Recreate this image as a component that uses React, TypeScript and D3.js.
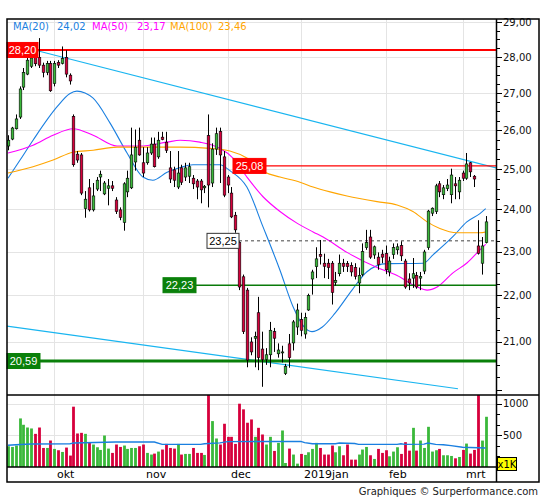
import React from 'react';
import * as d3 from 'd3';

// ---------- DATA ----------
const opens = [
  25.59, 25.77, 26.04, 26.35, 27.16, 27.52, 27.74, 28.04, 27.99, 27.77,
  27.57, 27.82, 27.26, 27.85, 27.82, 27.99, 27.49, 26.37, 25.38, 25.36,
  24.02, 24.53, 23.99, 24.50, 24.80, 24.38, 24.52, 24.58, 24.23, 23.99,
  23.69, 24.43, 24.53, 25.18, 25.74, 25.16, 25.16, 25.41, 25.64, 25.31,
  25.82, 25.69, 25.03, 24.98, 24.55, 25.03, 24.80, 24.82, 24.77, 24.70,
  24.70, 24.53, 25.86, 24.65, 25.51, 25.97, 25.31, 24.80, 24.40, 23.86,
  23.21, 22.42, 22.12, 20.99, 21.07, 21.62, 20.84, 20.62, 20.72, 21.21,
  20.74, 20.76, 20.33, 20.95, 20.97, 21.31, 21.47, 21.16, 21.68, 22.37,
  22.65, 22.93, 22.73, 22.73, 22.73, 22.29, 22.49, 22.73, 22.72, 22.68,
  22.63, 22.28, 22.47, 23.09, 23.34, 22.92, 22.87, 22.94, 22.95, 22.53,
  22.93, 23.04, 23.14, 22.78, 22.37, 22.39, 22.45, 22.39, 22.55, 23.09,
  23.91, 23.95, 24.63, 24.36, 24.51, 24.36, 24.63, 24.43, 24.90, 24.77,
  25.16, 24.82, 23.13, 22.73, 23.21,
];
const highs = [
  25.87, 26.09, 26.42, 27.18, 27.69, 28.09, 28.19, 28.19, 28.54, 27.84,
  27.89, 27.89, 27.89, 27.91, 28.30, 28.19, 27.54, 26.42, 25.46, 25.41,
  24.45, 24.75, 24.65, 24.80, 24.96, 24.70, 24.75, 24.70, 24.30, 24.05,
  24.67, 24.96, 26.07, 26.02, 26.07, 25.56, 25.56, 25.81, 25.81, 25.96,
  25.96, 25.96, 25.46, 25.06, 25.46, 25.11, 25.16, 25.16, 24.85, 24.75,
  24.75, 24.60, 26.42, 25.66, 26.07, 26.07, 25.46, 24.85, 24.55, 23.94,
  23.24, 22.47, 22.17, 21.09, 21.21, 21.97, 21.21, 20.86, 21.42, 21.29,
  20.96, 20.91, 20.53, 21.16, 21.46, 21.82, 21.62, 21.62, 22.04, 22.58,
  23.10, 23.27, 22.95, 22.83, 22.78, 22.53, 22.93, 22.83, 22.78, 22.75,
  22.73, 22.63, 23.19, 23.51, 23.51, 23.14, 22.98, 23.04, 23.14, 22.88,
  23.19, 23.19, 23.24, 22.83, 22.50, 22.85, 22.53, 22.53, 23.04, 23.99,
  24.05, 24.63, 24.70, 24.60, 24.75, 25.01, 24.80, 24.80, 24.96, 25.41,
  25.18, 24.85, 23.74, 23.34, 23.84,
];
const lows = [
  25.48, 25.74, 26.02, 26.30, 27.08, 27.49, 27.69, 27.74, 27.69, 27.43,
  27.49, 27.03, 27.18, 27.69, 27.79, 27.43, 27.23, 25.06, 25.16, 24.35,
  23.80, 23.95, 23.95, 24.45, 24.45, 24.35, 24.10, 24.45, 23.89, 23.74,
  23.49, 24.30, 24.50, 24.96, 25.34, 24.80, 25.11, 25.36, 25.04, 25.26,
  25.74, 25.41, 24.65, 24.55, 24.50, 24.60, 24.70, 24.65, 24.50, 24.25,
  24.15, 24.40, 24.05, 24.55, 25.36, 24.65, 24.30, 24.40, 23.79, 23.44,
  22.12, 21.16, 20.46, 20.71, 20.46, 20.40, 20.06, 20.51, 20.46, 20.78,
  20.66, 20.56, 20.30, 20.45, 20.81, 21.14, 21.11, 21.06, 21.66, 22.02,
  22.39, 22.70, 22.39, 22.37, 21.80, 22.22, 22.43, 22.53, 22.53, 22.43,
  22.36, 22.05, 22.43, 23.04, 22.83, 22.83, 22.58, 22.73, 22.48, 22.43,
  22.83, 22.93, 22.78, 22.15, 22.12, 22.17, 22.15, 22.12, 22.48, 23.04,
  23.84, 23.89, 24.30, 24.25, 24.45, 24.15, 24.25, 24.25, 24.70, 24.73,
  24.80, 24.55, 22.93, 22.47, 23.19,
];
const closes = [
  25.74, 26.06, 26.30, 27.11, 27.57, 27.91, 27.97, 27.81, 27.77, 27.57,
  27.82, 27.06, 27.82, 27.77, 27.96, 27.52, 27.33, 25.11, 25.23, 24.40,
  24.25, 23.99, 24.33, 24.72, 24.87, 24.65, 24.58, 24.52, 23.95, 23.81,
  24.63, 24.77, 25.36, 25.56, 25.36, 24.90, 25.41, 25.64, 25.06, 25.74,
  25.76, 25.48, 24.75, 24.72, 24.90, 24.67, 25.03, 25.06, 24.63, 24.55,
  24.48, 24.57, 24.60, 25.51, 25.91, 25.36, 24.35, 24.60, 23.82, 23.51,
  22.19, 21.21, 20.61, 20.78, 21.11, 20.66, 20.62, 20.72, 21.24, 21.07,
  20.82, 20.78, 20.48, 20.66, 21.42, 21.68, 21.24, 21.52, 22.00, 22.53,
  22.83, 22.89, 22.66, 22.63, 22.07, 22.34, 22.73, 22.66, 22.65, 22.53,
  22.43, 22.45, 23.00, 23.21, 22.87, 23.11, 22.70, 22.87, 22.58, 22.78,
  23.09, 23.11, 22.90, 22.19, 22.28, 22.49, 22.19, 22.43, 22.99, 23.96,
  24.03, 24.58, 24.43, 24.53, 24.60, 24.85, 24.58, 24.72, 24.77, 25.13,
  24.93, 24.75, 22.96, 23.13, 23.70,
];
// volumes in thousands
const volumes = [
  327, 316, 338, 765, 665, 622, 607, 522, 622, 300,
  300, 417, 285, 264, 237, 306, 180, 950, 528, 538,
  522, 380, 354, 311, 269, 496, 290, 222, 354, 316,
  338, 285, 300, 300, 327, 354, 222, 196, 211, 243,
  275, 364, 300, 290, 364, 196, 206, 206, 300, 222,
  222, 190, 1150, 723, 449, 354, 681, 475, 475, 364,
  997, 908, 697, 749, 475, 617, 512, 354, 475, 253,
  380, 575, 63, 290, 196, 53, 206, 190, 232, 285,
  380, 300, 196, 196, 338, 232, 327, 185, 354, 116,
  116, 196, 275, 316, 185, 127, 285, 222, 264, 169,
  243, 311, 206, 391, 258, 617, 258, 417, 300, 633,
  243, 264, 285, 185, 185, 174, 137, 158, 269, 369,
  211, 269, 1150, 416, 791,
];

const monthLabels = ['okt', 'nov', 'dec', '2019jan', 'feb', 'mrt'];
const monthStarts = [12, 35, 57, 76, 98, 118];

// moving averages: [candle index, value]
const ma20Pts = [
  [0, 24.77], [3, 25.21], [6.5, 25.74], [12.7, 26.62], [16, 26.98], [17.9, 27.05], [20, 27.0],
  [22.1, 26.86], [26.5, 26.19], [30.9, 25.41], [35, 24.8], [37.6, 24.72], [41.3, 24.92],
  [44.7, 25.04], [48, 25.11], [55, 25.11], [57.6, 24.96], [62, 24.55], [66.2, 23.58],
  [70.6, 22.57], [74, 21.75], [76.6, 21.34], [78.9, 21.21], [81.6, 21.31], [84.9, 21.61],
  [89.3, 22.12], [93.1, 22.53], [98.3, 22.72], [107.8, 22.73], [110.4, 22.93], [115.6, 23.36],
  [119.1, 23.7], [122.5, 23.9], [124, 24.02],
];
const ma50Pts = [
  [0, 25.41], [6.5, 25.61], [11.7, 25.87], [16.9, 26.04], [22.1, 25.87], [28.3, 25.59],
  [34.3, 25.59], [41.3, 25.69], [44.7, 25.74], [49.8, 25.69], [55, 25.53], [58.4, 25.28],
  [62, 24.8], [66.2, 24.31], [70.6, 23.95], [75, 23.67], [79.2, 23.46], [81.8, 23.34],
  [88, 22.98], [95.8, 22.63], [101, 22.45], [106.2, 22.19], [108.8, 22.12], [111.4, 22.19],
  [115.5, 22.51], [119.2, 22.74], [122.5, 23.04], [124, 23.17],
];
const ma100Pts = [
  [0, 24.9], [6.5, 25.06], [11.7, 25.23], [16.9, 25.43], [22.1, 25.48], [28.3, 25.56],
  [36.9, 25.56], [44.7, 25.56], [52.4, 25.53], [57.6, 25.46], [62, 25.28], [66.7, 24.92],
  [70.6, 24.8], [75.8, 24.67], [79.2, 24.55], [83.6, 24.43], [88, 24.33], [95.8, 24.19],
  [101, 24.11], [105.1, 23.95], [108.8, 23.7], [112.1, 23.54], [116.6, 23.44], [122.5, 23.44],
  [124, 23.46],
];
const volMaPts = [
  [0, 342], [2, 350], [6, 362], [16, 365], [17, 378], [28, 394], [38, 394], [40, 357],
  [50, 357], [51, 367], [55, 380], [57, 400], [76, 404], [77, 383], [79, 367], [85, 367],
  [86, 378], [90, 370], [91, 357], [101, 357], [102, 365], [103, 357], [108, 360], [109, 378],
  [111, 357], [113, 350], [115, 336], [118, 310], [124, 300],
];

const legendLabels = ['MA(20)', 'MA(50)', 'MA(100)'];
const legendValues = ['24,02', '23,17', '23,46'];

const levelValues = [28.2, 25.08, 23.25, 22.23, 20.59];
const trendUpper = [[-0.26, 28.4], [126.7, 25.03]];
const trendLower = [[-0.26, 21.33], [116.8, 20.02]];

const priceTicks = [21, 22, 23, 24, 25, 26, 27, 28, 29];
const volTicks = [500, 1000];

// ---------- STYLE / LAYOUT ----------
const FONT = '"DejaVu Sans", Verdana, sans-serif';
const L = 7, R = 496, T = 19, B = 395, VB = 467, FB = 482, FR = 539;
const GREEN = '#3ab83a';
const RED = '#d6003c';
const MA_COLORS = ['#1a7fe0', '#ff00ff', '#ffa500'];
const LEGEND_X = [[13, 57], [92, 137], [170, 218]];
const LEVEL_STYLE = [
  { color: '#ff0000', width: 2, dash: undefined, fill: '#ff0000', text: '#fff', border: '#ff0000', bx: 7, bw: 31 },
  { color: '#ff0000', width: 1.2, dash: undefined, fill: '#ff0000', text: '#fff', border: '#ff0000', bx: 233, bw: 33 },
  { color: '#444444', width: 1, dash: '3,3', fill: '#ffffff', text: '#000', border: '#333333', bx: 207, bw: 32 },
  { color: '#0a7a0a', width: 1.5, dash: undefined, fill: '#0a800a', text: '#fff', border: '#0a800a', bx: 163, bw: 33 },
  { color: '#0a800a', width: 3, dash: undefined, fill: '#0a800a', text: '#fff', border: '#0a800a', bx: 7, bw: 33 },
];

export default function App() {
  const x = d3.scaleLinear().domain([0, 124]).range([8, 485.7]);
  const y = d3.scaleLog().domain([21, 28]).range([341.5, 57]);
  const yv = d3.scaleLinear().domain([0, 1134]).range([VB, T + (B - T)]).clamp(true);
  yv.range([VB, B]);
  const fmt = (v: number) => d3.format('.2f')(v).replace('.', ',');
  const maLine = d3.line<number[]>().x(d => x(d[0])).y(d => y(d[1])).curve(d3.curveMonotoneX);
  const straight = d3.line<number[]>().x(d => x(d[0])).y(d => y(d[1]));
  const vLine = d3.line<number[]>().x(d => x(d[0])).y(d => yv(d[1]));
  const minorTicks = d3.range(80, 117).map(k => k / 4).filter(p => y(p) >= T && y(p) <= B);
  const volMinor = d3.range(1, 7).map(k => (1000 / 6) * k);
  const idx = d3.range(closes.length);

  return (
    <div style={{ position: 'absolute', left: 0, top: 0 }}>
      <svg width={545} height={500} style={{ display: 'block', background: '#fff' }} fontFamily={FONT}>
        <defs>
          <clipPath id="clipMain"><rect x={L} y={T} width={R - L} height={B - T} /></clipPath>
          <clipPath id="clipVol"><rect x={L} y={B} width={R - L} height={VB - B} /></clipPath>
        </defs>
        <rect x={0} y={0} width={545} height={500} fill="#fff" />

        {/* grid main */}
        <g stroke="#e4e4e4" strokeWidth={1}>
          {priceTicks.map(p => (
            <line key={'hg' + p} x1={L} x2={R} y1={Math.round(y(p)) + 0.5} y2={Math.round(y(p)) + 0.5} />
          ))}
          {monthStarts.map(i => (
            <line key={'vg' + i} x1={Math.round(x(i)) + 0.5} x2={Math.round(x(i)) + 0.5} y1={T} y2={VB} />
          ))}
          {volTicks.map(v => (
            <line key={'vh' + v} x1={L} x2={R} y1={Math.round(yv(v)) + 0.5} y2={Math.round(yv(v)) + 0.5} />
          ))}
        </g>

        <g clipPath="url(#clipMain)">
          {/* trend lines */}
          <path d={straight(trendUpper) || ''} fill="none" stroke="#19b5f0" strokeWidth={1.2} />
          <path d={straight(trendLower) || ''} fill="none" stroke="#19b5f0" strokeWidth={1.2} />
          {/* moving averages */}
          {[ma20Pts, ma50Pts, ma100Pts].map((pts, k) => (
            <path key={'ma' + k} d={maLine(pts) || ''} fill="none" stroke={MA_COLORS[k]} strokeWidth={1.1} />
          ))}
          {/* level lines */}
          {levelValues.map((v, k) => {
            const s = LEVEL_STYLE[k];
            return (
              <line key={'lv' + k} x1={s.bx + s.bw} x2={R} y1={y(v)} y2={y(v)}
                stroke={s.color} strokeWidth={s.width} strokeDasharray={s.dash} />
            );
          })}
          {/* candles */}
          {idx.map(i => {
            const o = opens[i], c = closes[i];
            const up = c >= o;
            const cx = Math.round(x(i)) + 0.5;
            const top = y(Math.max(o, c));
            const bot = y(Math.min(o, c));
            return (
              <g key={'c' + i}>
                <line x1={cx} x2={cx} y1={y(highs[i])} y2={y(lows[i])} stroke="#000" strokeWidth={1} />
                <rect x={cx - 1.3} y={top} width={2.6} height={Math.max(1, bot - top)}
                  fill={up ? GREEN : RED} stroke="#000" strokeWidth={0.6} />
              </g>
            );
          })}
        </g>

        {/* level label boxes */}
        {levelValues.map((v, k) => {
          const s = LEVEL_STYLE[k];
          const cy = y(v);
          return (
            <g key={'lb' + k}>
              <rect x={s.bx} y={cy - 7.5} width={s.bw} height={15} fill={s.fill} stroke={s.border} strokeWidth={1} />
              <text x={s.bx + s.bw / 2} y={cy} dy="0.36em" textAnchor="middle" fontSize={11}
                fontFamily='"Liberation Sans", Arial, sans-serif' fill={s.text}>{fmt(v)}</text>
            </g>
          );
        })}

        {/* legend */}
        {legendLabels.map((lab, k) => (
          <g key={'lg' + k} fontSize={10} fill={MA_COLORS[k]}>
            <text x={LEGEND_X[k][0]} y={30}>{lab}</text>
            <text x={LEGEND_X[k][1]} y={30}>{legendValues[k]}</text>
          </g>
        ))}

        {/* volume bars */}
        <g clipPath="url(#clipVol)">
          {idx.map(i => {
            const cx = Math.round(x(i)) + 0.5;
            const top = yv(volumes[i]);
            return (
              <rect key={'v' + i} x={cx - 1.4} y={top} width={2.8} height={VB - top}
                fill={closes[i] >= opens[i] ? GREEN : RED} />
            );
          })}
          <path d={vLine(volMaPts) || ''} fill="none" stroke="#1a7fe0" strokeWidth={1.4} />
        </g>

        {/* right price axis */}
        <g stroke="#000" strokeWidth={1}>
          {minorTicks.map(p => (
            <line key={'mt' + p} x1={R} x2={R + (Number.isInteger(p) ? 6 : 4)} y1={Math.round(y(p)) + 0.5} y2={Math.round(y(p)) + 0.5} />
          ))}
          {volMinor.map(v => (
            <line key={'vm' + v} x1={R} x2={R + (v === 500 || v === 1000 ? 6 : 4)} y1={Math.round(yv(v)) + 0.5} y2={Math.round(yv(v)) + 0.5} />
          ))}
        </g>
        {priceTicks.map(p => (
          <text key={'pl' + p} x={R + 7} y={y(p)} dy="0.36em" fontSize={10} fill="#111">{fmt(p)}</text>
        ))}
        {volTicks.map(v => (
          <text key={'vl' + v} x={R + 7} y={yv(v)} dy="0.36em" fontSize={10} fill="#111">{v}</text>
        ))}

        {/* month labels */}
        {monthStarts.map((i, k) => (
          <text key={'ml' + k} x={Math.round(x(i)) + 3} y={478} fontSize={11} fill="#000">{monthLabels[k]}</text>
        ))}

        {/* frames */}
        <g stroke="#000" strokeWidth={1.5} fill="none">
          <rect x={L} y={T} width={FR - L} height={FB - T} />
          <line x1={R + 0.5} x2={R + 0.5} y1={T} y2={FB} />
          <line x1={L} x2={FR} y1={B} y2={B} />
          <line x1={L} x2={R} y1={VB} y2={VB} />
        </g>

        {/* x1K box */}
        <rect x={497.5} y={457.5} width={19} height={13} fill="#ffff00" stroke="#000" strokeWidth={1} />
        <text x={507} y={464} dy="0.36em" textAnchor="middle" fontSize={10} fill="#000">x1K</text>

        <text x={538} y={495} textAnchor="end" fontSize={10} fill="#222">Graphiques © Surperformance.com</text>
      </svg>
    </div>
  );
}
